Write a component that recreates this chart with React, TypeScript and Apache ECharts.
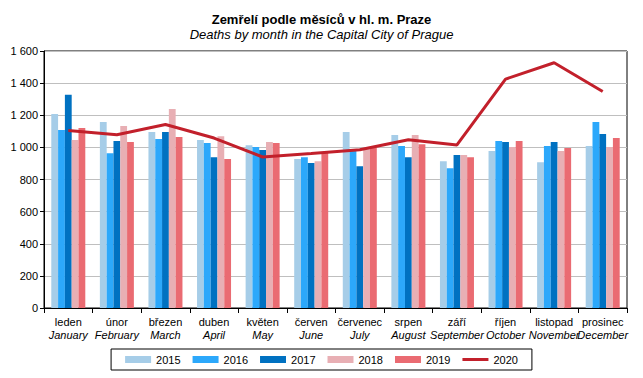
import React, { useEffect, useRef } from "react";
import * as echarts from "echarts";

const monthsCz = ["leden", "únor", "březen", "duben", "květen", "červen", "červenec", "srpen", "září", "říjen", "listopad", "prosinec"];
const monthsEn = ["January", "February", "March", "April", "May", "June", "July", "August", "September", "October", "November", "December"];

const years = ["2015", "2016", "2017", "2018", "2019", "2020"];
const d2015 = [1208, 1158, 1096, 1046, 1014, 927, 1096, 1077, 914, 977, 908, 1008];
const d2016 = [1108, 964, 1052, 1027, 1002, 939, 985, 1008, 870, 1039, 1008, 1158];
const d2017 = [1327, 1039, 1096, 939, 983, 902, 883, 939, 952, 1033, 1033, 1083];
const d2018 = [1046, 1133, 1239, 1070, 1033, 914, 990, 1077, 952, 1002, 977, 1002];
const d2019 = [1120, 1033, 1064, 927, 1027, 968, 1000, 1020, 939, 1039, 996, 1058];
const d2020 = [1105, 1079, 1142, 1058, 940, 962, 985, 1047, 1015, 1425, 1527, 1348];

const colors = ["#A6CDE8", "#2CA8FB", "#0071C1", "#E8AFB4", "#EA6B72", "#C2202B"];
const FONT = "'Liberation Sans', Arial, sans-serif";

export default function App() {
  const ref = useRef<HTMLDivElement>(null);
  useEffect(() => {
    if (!ref.current) return;
    const chart = echarts.init(ref.current, null, { renderer: "svg" });
    const barData = [d2015, d2016, d2017, d2018, d2019];
    const barSeries = barData.map((d, i) => ({
      name: years[i],
      type: "bar",
      data: d,
      barGap: "0%",
      barCategoryGap: "30%",
      itemStyle: { color: colors[i] },
    }));
    chart.setOption({
      animation: false,
      textStyle: { fontFamily: FONT },
      title: {
        text: "Zemřelí podle měsíců v hl. m. Praze",
        subtext: "Deaths by month in the Capital City of Prague",
        left: "center",
        top: 8,
        itemGap: 2,
        textStyle: { fontFamily: FONT, fontSize: 13, fontWeight: "bold", color: "#000" },
        subtextStyle: { fontFamily: FONT, fontSize: 13, fontStyle: "italic", color: "#000" },
      },
      legend: {
        left: "center",
        top: 349,
        itemWidth: 26,
        itemHeight: 7,
        itemGap: 12,
        padding: [5, 14],
        borderColor: "#000",
        borderWidth: 1,
        textStyle: { fontFamily: FONT, fontSize: 11, color: "#000" },
        data: [
          { name: "2015", icon: "rect" },
          { name: "2016", icon: "rect" },
          { name: "2017", icon: "rect" },
          { name: "2018", icon: "rect" },
          { name: "2019", icon: "rect" },
          { name: "2020", icon: "path://M0,0 L26,0 L26,3 L0,3 Z" },
        ],
      },
      grid: {
        left: 44,
        right: 16,
        top: 51,
        bottom: 70,
        show: true,
        borderColor: "#000",
        borderWidth: 1,
        containLabel: false,
      },
      xAxis: {
        type: "category",
        data: monthsCz,
        boundaryGap: true,
        axisLine: { lineStyle: { color: "#000", width: 1 } },
        axisTick: { show: true, interval: 0, length: 5, lineStyle: { color: "#000" } },
        axisLabel: {
          interval: 0,
          margin: 7,
          formatter: (v: string, i: number) => `{a|${v}}\n{b|${monthsEn[i]}}`,
          rich: {
            a: { fontFamily: FONT, fontSize: 11, color: "#000", lineHeight: 13 },
            b: { fontFamily: FONT, fontSize: 11, fontStyle: "italic", color: "#000", lineHeight: 13 },
          },
        },
      },
      yAxis: {
        type: "value",
        min: 0,
        max: 1600,
        interval: 200,
        axisLine: { show: true, lineStyle: { color: "#000", width: 1 } },
        axisTick: { show: true, length: 4, lineStyle: { color: "#000" } },
        splitLine: { lineStyle: { color: "#BFBFBF", width: 1 } },
        axisLabel: {
          fontFamily: FONT,
          fontSize: 11,
          color: "#000",
          margin: 6,
          formatter: (v: number) => String(v).replace(/\B(?=(\d{3})+(?!\d))/g, " "),
        },
      },
      series: [
        ...barSeries,
        {
          name: "2020",
          type: "line",
          data: d2020,
          symbol: "none",
          z: 5,
          lineStyle: { color: colors[5], width: 3 },
          itemStyle: { color: colors[5] },
        },
      ],
    });
    return () => chart.dispose();
  }, []);
  return <div ref={ref} style={{ position: "absolute", left: 0, top: 0, width: 643, height: 378 }} />;
}
